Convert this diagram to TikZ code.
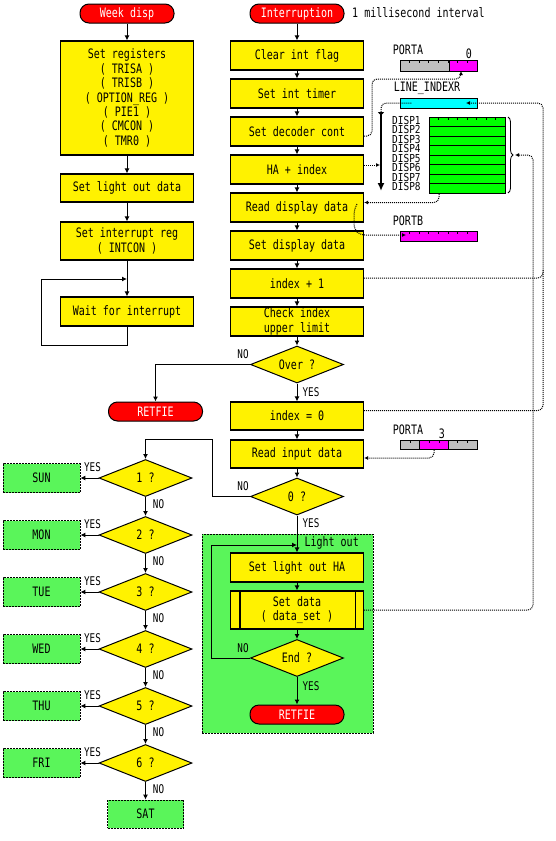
\documentclass[tikz,border=0pt]{standalone}
\usepackage{fontspec}
\newfontfamily\jf[FakeStretch=0.77]{DejaVu Sans Mono}
\newfontfamily\jfd[FakeStretch=0.86]{DejaVu Sans Mono}
\usetikzlibrary{arrows.meta,shapes.geometric,decorations.pathreplacing}
\definecolor{lgreen}{RGB}{90,245,90}
\definecolor{magen}{RGB}{255,0,255}
\definecolor{cyanb}{RGB}{0,255,255}
\definecolor{grayb}{RGB}{192,192,192}
\definecolor{agreen}{RGB}{0,255,0}
\begin{document}
\begin{tikzpicture}[x=1pt,y=-1pt,
  every node/.style={font=\jf\fontsize{13}{14.4}\selectfont, inner sep=0pt},
  proc/.style={draw, line width=1.2pt, fill=yellow, minimum width=133pt, minimum height=29pt, align=center},
  term/.style={draw, line width=1pt, fill=red, text=white, rounded corners=9pt, minimum width=94pt, minimum height=19pt},
  dec/.style={draw, line width=1pt, fill=yellow, diamond, aspect=2.5, minimum width=93pt, minimum height=37pt},
  day/.style={draw, dash pattern=on 2pt off 1pt, line width=0.8pt, fill=lgreen, minimum width=77pt, minimum height=29pt},
  grp/.style={draw, dash pattern=on 2pt off 1pt, line width=0.8pt, fill=lgreen, minimum width=171pt, minimum height=199pt},
  flow/.style={line width=1pt, -{Latex[length=5pt,width=5pt]}},
  link/.style={line width=1pt, dash pattern=on 1pt off 1pt, rounded corners=5pt},
  linkarr/.style={link, -{Latex[length=4pt,width=4pt]}},
  lbl/.style={font=\jf\fontsize{12}{12}\selectfont},
  dlbl/.style={font=\jfd\fontsize{11}{11}\selectfont},
  bar/.style={draw, line width=1pt}
]
\useasboundingbox (0,0) rectangle (555,841);
\fill[white] (0,0) rectangle (555,841);

% group background
\node[grp] (grp) at (287.5,633.5) {};
\node[anchor=east] (lightout) at (359,543) {Light out};

% ---------- left column ----------
\node[term] (wk) at (127,13.5) {Week disp};
\node[proc, minimum height=114pt] (sreg) at (127,98) {Set registers\\( TRISA )\\( TRISB )\\( OPTION\_REG )\\( PIE1 )\\( CMCON )\\( TMR0 )};
\node[proc, minimum height=28pt] (slo) at (127,188) {Set light out data};
\node[proc, minimum height=38pt] (sir) at (127,241) {Set interrupt reg\\( INTCON )};
\node[proc] (wfi) at (127,311.5) {Wait for interrupt};
\coordinate (lj) at (127,279);

\draw[flow] (wk.south) -- (sreg.north);
\draw[flow] (sreg.south) -- (slo.north);
\draw[flow] (slo.south) -- (sir.north);
\draw[flow] (sir.south) -- (wfi.north);
\draw[flow] (wfi.south) -- ++(0,19) -| (41,279) -- (lj);

% ---------- main column ----------
\node[term] (intr) at (297,13.5) {Interruption};
\node[anchor=west] (ms) at (352,13) {1 millisecond interval};
\node[proc] (b1) at (297,55.5) {Clear int flag};
\node[proc] (b2) at (297,93.5) {Set int timer};
\node[proc] (b3) at (297,131.5) {Set decoder cont};
\node[proc] (b4) at (297,169.5) {HA + index};
\node[proc] (b5) at (297,207.5) {Read display data};
\node[proc] (b6) at (297,245.5) {Set display data};
\node[proc] (b7) at (297,283.5) {index + 1};
\node[proc] (b8) at (297,321.5) {Check index\\upper limit};
\node[dec] (over) at (297,364.5) {Over ?};
\node[term] (ret1) at (155.5,411.5) {RETFIE};
\node[proc, minimum height=28pt] (idx0) at (297,416) {index = 0};
\node[proc, minimum height=28pt] (rin) at (297,454) {Read input data};
\node[dec] (zero) at (297,496.5) {0 ?};
\node[proc] (slha) at (297,567.5) {Set light out HA};
\node[proc, minimum height=38pt] (sdat) at (297,610) {Set data\\( data\_set )};
\draw[line width=1.2pt] ([xshift=10pt]sdat.north west) -- ([xshift=10pt]sdat.south west);
\draw[line width=1.2pt] ([xshift=-9pt]sdat.north east) -- ([xshift=-9pt]sdat.south east);
\node[dec] (endq) at (297,658) {End ?};
\node[term] (ret2) at (297,714.5) {RETFIE};
\coordinate (lo) at (297,545);

\draw[flow] (intr.south) -- (b1.north);
\draw[flow] (b1.south) -- (b2.north);
\draw[flow] (b2.south) -- (b3.north);
\draw[flow] (b3.south) -- (b4.north);
\draw[flow] (b4.south) -- (b5.north);
\draw[flow] (b5.south) -- (b6.north);
\draw[flow] (b6.south) -- (b7.north);
\draw[flow] (b7.south) -- (b8.north);
\draw[flow] (b8.south) -- (over.north);
\draw[flow] (over.south) -- (idx0.north);
\draw[flow] (over.west) -| (ret1.north);
\draw[flow] (idx0.south) -- (rin.north);
\draw[flow] (rin.south) -- (zero.north);
\draw[flow] (zero.south) -- (slha.north);
\draw[flow] (slha.south) -- (sdat.north);
\draw[flow] (sdat.south) -- (endq.north);
\draw[flow] (endq.south) -- (ret2.north);
\draw[flow] (endq.west) -| (211,545) -- (lo);

\node[lbl] (noover) at (243,354) {NO};
\node[lbl] (yesover) at (311,392) {YES};
\node[lbl] (nozero) at (243,486) {NO};
\node[lbl] (yeszero) at (311,523) {YES};
\node[lbl] (noend) at (243,648) {NO};
\node[lbl] (yesend) at (311,686) {YES};

% ---------- day decision chain ----------
\foreach \i/\d in {1/SUN,2/MON,3/TUE,4/WED,5/THU,6/FRI}{
  \pgfmathsetmacro\yy{478+57*(\i-1)}
  \node[dec] (d\i) at (145.5,\yy) {\i\ ?};
  \node[day] (day\i) at (41.5,\yy) {\d};
  \draw[flow] (d\i.west) -- (day\i.east);
  \node[lbl] (yes\i) at (92.5,\yy-10.5) {YES};
  \node[lbl] (no\i) at (158.5,\yy+26.5) {NO};
}
\node[day, minimum width=76pt, minimum height=28pt] (sat) at (145.5,814) {SAT};
\foreach \i in {1,...,5}{
  \pgfmathtruncatemacro\j{\i+1}
  \draw[flow] (d\i.south) -- (d\j.north);
}
\draw[flow] (d6.south) -- (sat.north);
\draw[flow] (zero.west) -| (212,439) -| (d1.north);

% ---------- registers ----------
% PORTA (bit 0)
\node (pa1) at (408,50) {PORTA};
\node (pa1b) at (469,54) {0};
\draw[bar, fill=grayb] (400,60) rectangle (449,71);
\draw[bar, fill=magen] (449,60) rectangle (477,71);
\foreach \k in {1,...,7} \draw[line width=0.8pt] (400+9.625*\k,60) -- ++(0,3);
\coordinate (pa1in) at (461,71);

% LINE_INDEXR
\node (li) at (427,88) {LINE\_INDEXR};
\draw[bar, fill=cyanb] (400,98) rectangle (477,108);
\coordinate (liin) at (466,103);

% vertical index arrow
\coordinate (vtop) at (381,112);
\coordinate (vbot) at (381,191);
\coordinate (vmid) at (380,165);
\draw[line width=2pt, {Latex[reversed,length=4pt,width=7pt]}-{Latex[length=8pt,width=7pt]}] (vtop) -- (vbot);

% DISP array
\foreach \i in {1,...,8} \node[dlbl, anchor=west] (disp\i) at (392,120+9.57*\i-9.57) {DISP\i};
\draw[bar, fill=agreen] (429,117) rectangle (505,193);
\foreach \k in {1,...,7} \draw[line width=1pt] (429,117+9.5*\k) -- (505,117+9.5*\k);
\foreach \k in {1,...,7} \draw[line width=0.8pt] (429+9.5*\k,117) -- ++(0,3);
\draw[line width=0.8pt, decorate, decoration={brace, amplitude=5pt}] (508,117) -- (508,193);
\coordinate (brtip) at (515,155);
\coordinate (arrbot) at (439,194);

% PORTB
\node (pb) at (408,221) {PORTB};
\draw[bar, fill=magen] (400,231) rectangle (477,241);
\foreach \k in {1,...,7} \draw[line width=0.8pt] (400+9.625*\k,231) -- ++(0,3);
\coordinate (pbin) at (406,235);

% PORTA (bit 3)
\node (pa2) at (408,430) {PORTA};
\node (pa2b) at (442,434) {3};
\draw[bar, fill=grayb] (400,440) rectangle (419,449);
\draw[bar, fill=magen] (419,440) rectangle (448,449);
\draw[bar, fill=grayb] (448,440) rectangle (477,449);
\foreach \x in {410,429,439,457,467} \draw[line width=0.8pt] (\x,440) -- ++(0,3);
\coordinate (pa2out) at (434,450);

% ---------- dotted data links ----------
\draw[linkarr] ([yshift=-4.5pt]b3.east) -| (372,79) -| (pa1in);
\draw[linkarr] ([yshift=4.5pt]b4.east) -- (vmid);
\draw[link] (vtop) |- (412,103);
\draw[linkarr] ([yshift=5.5pt]b7.east) -| (543,103) -- (liin);
\draw[link] ([yshift=5.5pt]idx0.east) -| (543,270);
\draw[linkarr] (sdat.east) -| (533,155) -- (brtip);
\draw[linkarr] (arrbot) |- ([yshift=5pt]b5.east);
\draw[linkarr] (357,204) -- (354,210) -- (354,229) -- (360,235) -- (pbin);
\draw[linkarr] (pa2out) |- ([yshift=-4pt]rin.east);
\end{tikzpicture}
\end{document}
